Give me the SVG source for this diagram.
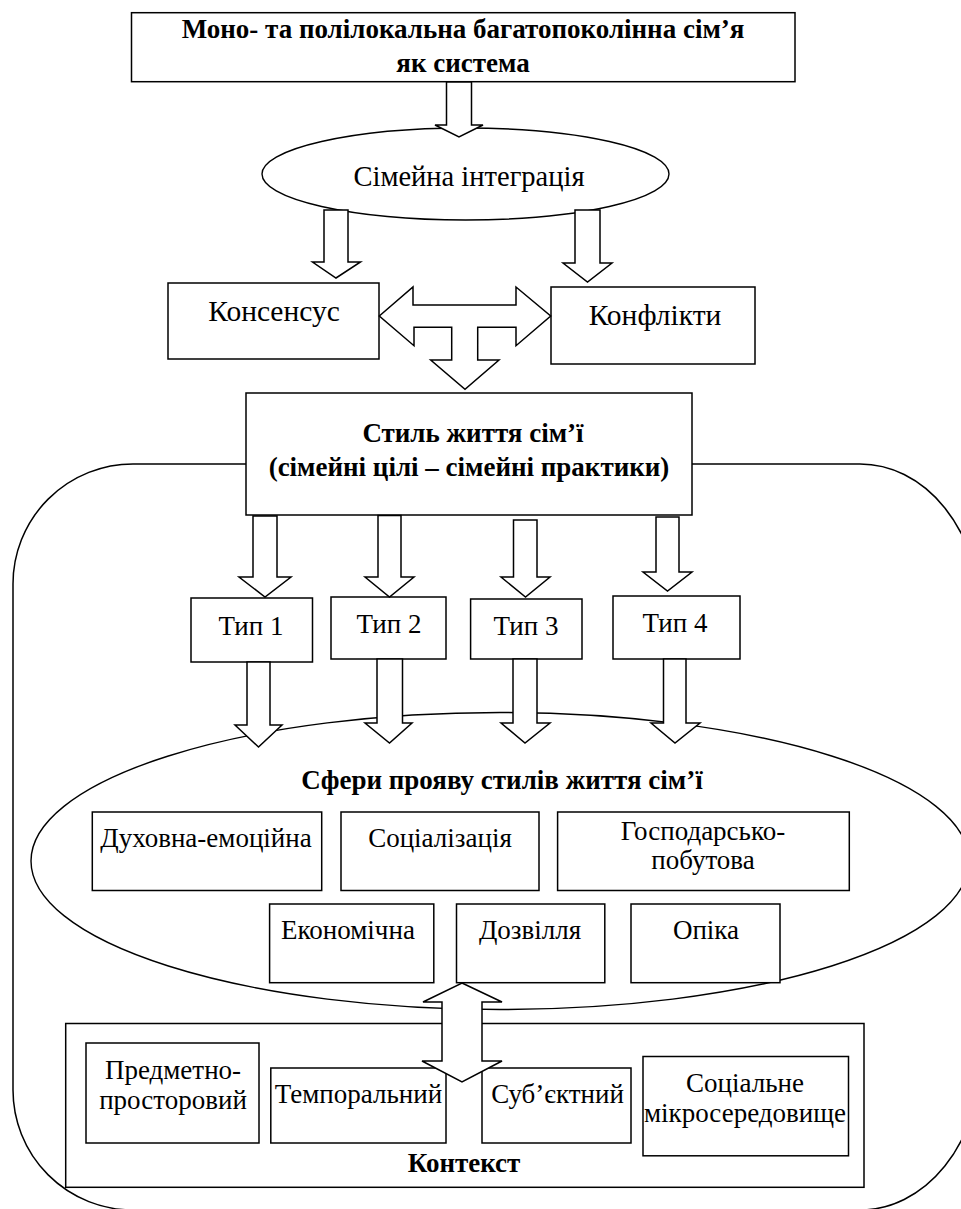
<svg xmlns="http://www.w3.org/2000/svg" width="961" height="1209" viewBox="0 0 961 1209">
<style>
.box{fill:#fff;stroke:#000;stroke-width:1.5}
.ell{fill:#fff;stroke:#000;stroke-width:1.4}
.arr{fill:#fff;stroke:#000;stroke-width:1.5;stroke-linejoin:miter}
.t{font-family:"Liberation Serif","Times New Roman",serif;font-size:27px;text-anchor:middle;fill:#000}
.b{font-weight:bold;font-size:27px}
.l{font-size:29.5px}
</style>
<rect width="961" height="1209" fill="#fff"/>
<g id="frame">
<path class="box" d="M133,464 H860 A120,150 0 0 1 980,614 V1060 A120,150 0 0 1 860,1210 H133 A120,120 0 0 1 13,1090 V584 A120,120 0 0 1 133,464 Z"/>
</g>
<g id="n-system">
<rect class="box" x="131.5" y="12.7" width="663.5" height="69"/>
<text class="t b" x="463" y="38">Моно- та полілокальна багатопоколінна сім’я</text>
<text class="t b" x="463" y="72">як система</text>
</g>
<g id="n-integration">
<ellipse class="ell" cx="465.5" cy="174" rx="203.5" ry="46"/>
<text class="t" x="469" y="186" style="font-size:28.5px">Сімейна інтеграція</text>
</g>
<g id="n-consensus">
<rect class="box" x="168" y="283" width="211" height="76"/>
<text class="t l" x="274" y="321">Консенсус</text>
</g>
<g id="n-conflicts">
<rect class="box" x="551" y="287" width="204" height="77"/>
<text class="t l" x="655" y="325">Конфлікти</text>
</g>
<g id="n-style">
<rect class="box" x="246" y="393" width="446" height="122"/>
<text class="t b" x="473" y="442">Стиль життя сім’ї</text>
<text class="t b" x="469" y="476">(сімейні цілі – сімейні практики)</text>
</g>
<g id="n-type1">
<rect class="box" x="191" y="598" width="121.5" height="64"/>
<text class="t" x="251" y="635">Тип 1</text>
</g>
<g id="n-type2">
<rect class="box" x="331" y="597" width="115" height="62"/>
<text class="t" x="389" y="633">Тип 2</text>
</g>
<g id="n-type3">
<rect class="box" x="470.6" y="599" width="111.4" height="60"/>
<text class="t" x="526" y="635">Тип 3</text>
</g>
<g id="n-type4">
<rect class="box" x="613" y="596" width="127" height="63"/>
<text class="t" x="675" y="632">Тип 4</text>
</g>
<g id="n-spheres">
<ellipse class="ell" cx="500" cy="861" rx="469" ry="148.5"/>
<text class="t b" x="502" y="789">Сфери прояву стилів життя сім’ї</text>
</g>
<g id="n-spiritual">
<rect class="box" x="92.3" y="812" width="229.4" height="78.5"/>
<text class="t" x="206" y="847">Духовна-емоційна</text>
</g>
<g id="n-socialization">
<rect class="box" x="341" y="812" width="198" height="78.5"/>
<text class="t" x="440" y="847">Соціалізація</text>
</g>
<g id="n-household">
<rect class="box" x="557.6" y="812" width="291.7" height="78.5"/>
<text class="t" x="703" y="840">Господарсько-</text>
<text class="t" x="703" y="869">побутова</text>
</g>
<g id="n-economic">
<rect class="box" x="269.6" y="904" width="164.2" height="78.7"/>
<text class="t" x="348" y="939">Економічна</text>
</g>
<g id="n-leisure">
<rect class="box" x="456.5" y="904" width="148.3" height="78.7"/>
<text class="t" x="530" y="939">Дозвілля</text>
</g>
<g id="n-care">
<rect class="box" x="631" y="904" width="149" height="78.7"/>
<text class="t" x="706" y="939">Опіка</text>
</g>
<g id="n-context">
<rect class="box" x="65.7" y="1023.5" width="798.3" height="163.8"/>
<text class="t b" x="464" y="1172">Контекст</text>
</g>
<g id="n-spatial">
<rect class="box" x="86" y="1043" width="173" height="100"/>
<text class="t" x="173" y="1079">Предметно-</text>
<text class="t" x="173" y="1109">просторовий</text>
</g>
<g id="n-temporal">
<rect class="box" x="270.8" y="1068" width="175.2" height="75"/>
<text class="t" x="358.5" y="1103">Темпоральний</text>
</g>
<g id="n-subject">
<rect class="box" x="482" y="1068" width="149" height="75"/>
<text class="t" x="557.5" y="1103">Суб’єктний</text>
</g>
<g id="n-social">
<rect class="box" x="643" y="1056.5" width="205.5" height="99.3"/>
<text class="t" x="745" y="1092">Соціальне</text>
<text class="t" x="745" y="1122">мікросередовище</text>
</g>
<g id="connectors">
<polygon class="arr" points="446.5,82 471.5,82 471.5,125 483,125 459,137 435,125 446.5,125"/>
<polygon class="arr" points="324,210 348,210 348,262 360.5,262 336,278 312.5,262 324,262"/>
<polygon class="arr" points="575,210 600,210 600,263 612,263 587.5,282 563,263 575,263"/>
<polygon class="arr" points="379.3,316 413,287 413,305 516,305 516,287 550.7,316 516,345.7 516,327.3 477.7,327.3 477.7,360 499,360 465,389.3 430.7,360 451.7,360 451.7,327.3 414,327.3 414,345.7"/>
<polygon class="arr" points="253,516 277,516 277,577 291,577 265,597 239,577 253,577"/>
<polygon class="arr" points="378,515.5 401,515.5 401,577 414,577 389.5,597 365,577 378,577"/>
<polygon class="arr" points="513.5,520 537,520 537,577 550,577 525.5,597 501,577 513.5,577"/>
<polygon class="arr" points="656,517 679,517 679,572 692,572 667.5,591 643,572 656,572"/>
<polygon class="arr" points="247,662 270,662 270,725 282,725 258.5,747 235,725 247,725"/>
<polygon class="arr" points="377,659 402.5,659 402.5,723 412,723 389.5,743 365,723 377,723"/>
<polygon class="arr" points="513,659 537,659 537,723 550,723 525,743 501,723 513,723"/>
<polygon class="arr" points="663.5,659 686,659 686,723 700,723 675,743 651,723 663.5,723"/>
<polygon class="arr" points="462,983 502,1002 482,1002 482,1061 502,1061 462,1082 422,1061 442,1061 442,1002 423,1002"/>
</g>
</svg>
